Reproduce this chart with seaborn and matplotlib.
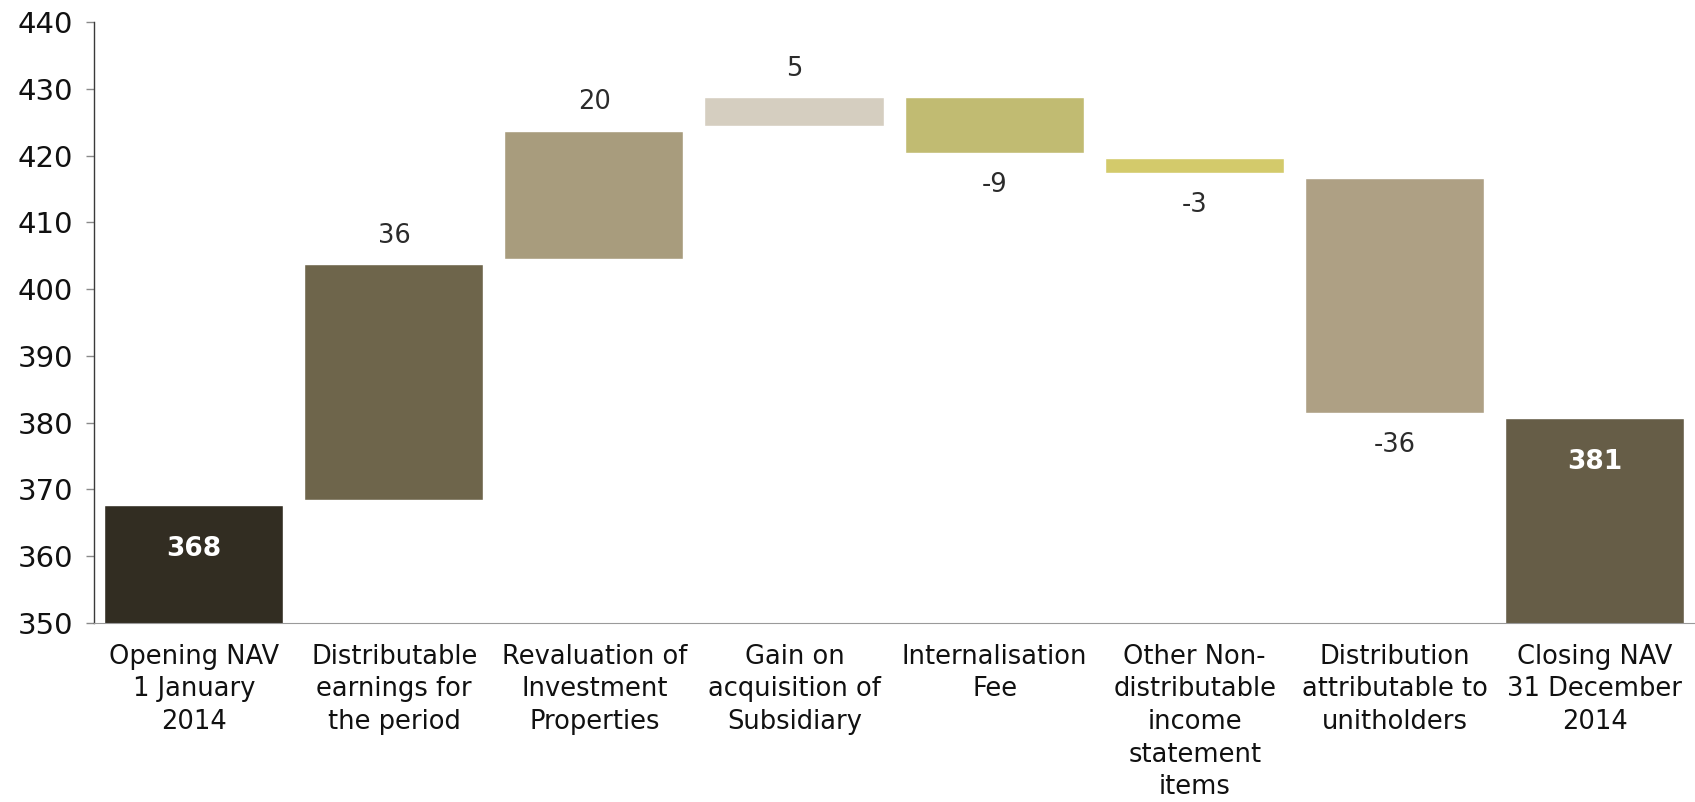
import numpy as np
import pandas as pd
import matplotlib
matplotlib.use("Agg")
import matplotlib.pyplot as plt
import seaborn as sns

# NAV bridge, 2014 (values in millions)
categories = [
    "Opening NAV\n1 January\n2014",
    "Distributable\nearnings for\nthe period",
    "Revaluation of\nInvestment\nProperties",
    "Gain on\nacquisition of\nSubsidiary",
    "Internalisation\nFee",
    "Other Non-\ndistributable\nincome\nstatement\nitems",
    "Distribution\nattributable to\nunitholders",
    "Closing NAV\n31 December\n2014",
]
opening_nav = 368
movements = [36, 20, 5, -9, -3, -36]
closing_nav = 381
bar_colors = ["#322d22", "#6e654b", "#a89c7d", "#d5cec0",
              "#c1bb72", "#d3ca6b", "#aea084", "#665d47"]
y_ticks = [350, 360, 370, 380, 390, 400, 410, 420, 430, 440]

# running totals -> floating bar extents
levels = opening_nav + np.concatenate([[0], np.cumsum(movements)])
tops = [opening_nav] + [max(a, b) for a, b in zip(levels[:-1], levels[1:])] + [closing_nav]
bottoms = [0] + [min(a, b) for a, b in zip(levels[:-1], levels[1:])] + [0]
df = pd.DataFrame({"category": categories, "top": tops, "bottom": bottoms})

sns.set_theme(style="white")
plt.rcParams["font.family"] = ["DejaVu Sans"]

fig = plt.figure(figsize=(16.95, 8.02), dpi=100)
ax = fig.add_axes([0.0555, 0.2232, 0.9445, 0.7494])

edge_lw = 4.6
bar_w = 0.92
sns.barplot(data=df, x="category", y="top", hue="category", palette=bar_colors,
            saturation=1, width=bar_w, edgecolor="white", linewidth=edge_lw,
            legend=False, ax=ax, zorder=1)
# mask the lower part of each floating bar
sns.barplot(data=df, x="category", y="bottom", color="white", saturation=1,
            width=bar_w, edgecolor="white", linewidth=edge_lw,
            ax=ax, zorder=1.5)

ax.set_ylim(350, 440)
ax.set_xlim(-0.5, len(categories) - 0.5)
ax.set_yticks(y_ticks)
ax.set_xlabel("")
ax.set_ylabel("")

# value labels
for i, cat in enumerate(categories):
    if i == 0 or i == len(categories) - 1:
        val = tops[i]
        ax.annotate(f"{val}", xy=(i, val), xytext=(0, -33), textcoords="offset points",
                    ha="center", va="center", color="white", fontsize=19,
                    fontweight="bold", zorder=5)
    else:
        mv = movements[i - 1]
        if mv >= 0:
            ax.annotate(f"{mv}", xy=(i, tops[i]), xytext=(0, 19), textcoords="offset points",
                        ha="center", va="center", color="#2b2b2b", fontsize=18.5, zorder=5)
        else:
            ax.annotate(f"{mv}", xy=(i, bottoms[i]), xytext=(0, -21), textcoords="offset points",
                        ha="center", va="center", color="#2b2b2b", fontsize=18.5, zorder=5)

# axes styling
for side in ["top", "right"]:
    ax.spines[side].set_visible(False)
ax.spines["left"].set_color("#3a3a3a")
ax.spines["left"].set_linewidth(1.0)
ax.spines["bottom"].set_color("#9a9a9a")
ax.spines["bottom"].set_linestyle((0, (1, 1)))
ax.spines["bottom"].set_linewidth(0.8)

ax.tick_params(axis="y", which="major", direction="out", length=6, width=1,
               color="#8a8a8a", labelsize=21, labelcolor="#111111", pad=9, left=True)
ax.tick_params(axis="x", which="major", length=0, labelsize=18.5,
               labelcolor="#111111", pad=15)
for lab in ax.get_xticklabels():
    lab.set_linespacing(1.33)
    lab.set_ha("center")

fig.savefig("out.png", dpi=100, facecolor="white")
